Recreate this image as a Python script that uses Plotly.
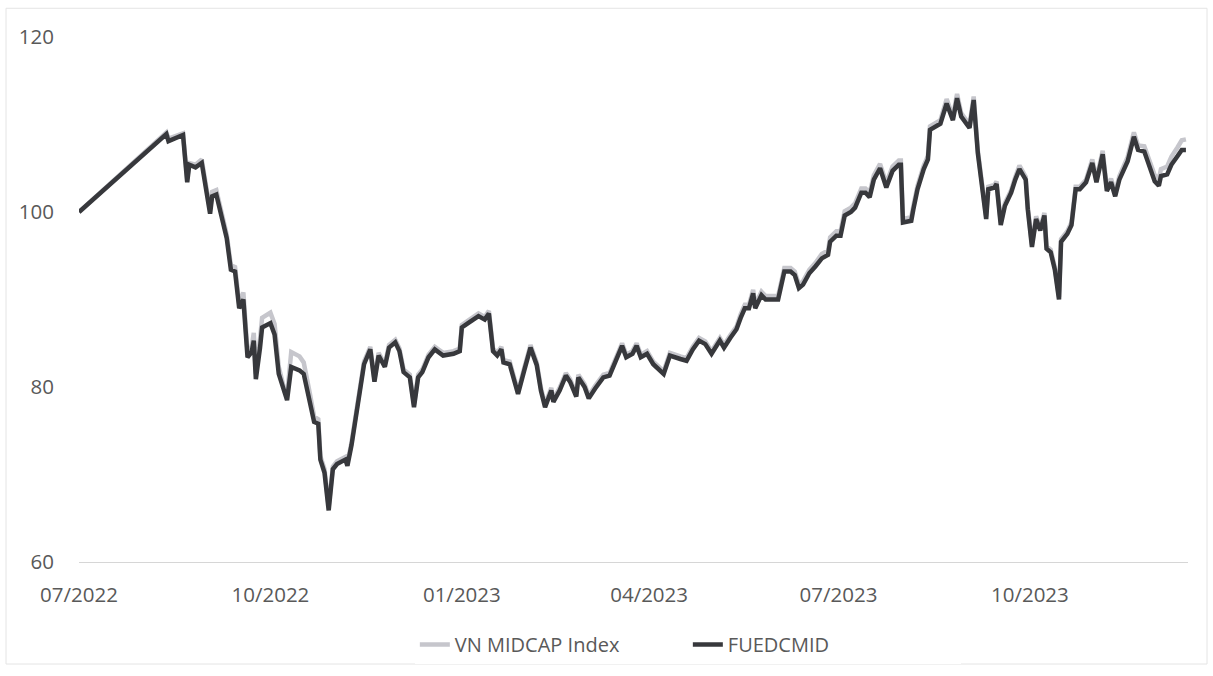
import plotly.graph_objects as go

dates = [
    "2022-07-01", "2022-08-12", "2022-08-13", "2022-08-20", "2022-08-22", "2022-08-23", "2022-08-26", "2022-08-29",
    "2022-09-02", "2022-09-03", "2022-09-05", "2022-09-08", "2022-09-10", "2022-09-12", "2022-09-14", "2022-09-16",
    "2022-09-18", "2022-09-20", "2022-09-22", "2022-09-23", "2022-09-24", "2022-09-26", "2022-09-27", "2022-10-01",
    "2022-10-03", "2022-10-05", "2022-10-08", "2022-10-09", "2022-10-11", "2022-10-15", "2022-10-17", "2022-10-20",
    "2022-10-22", "2022-10-24", "2022-10-25", "2022-10-27", "2022-10-29", "2022-10-31", "2022-11-02", "2022-11-06",
    "2022-11-07", "2022-11-09", "2022-11-12", "2022-11-13", "2022-11-15", "2022-11-18", "2022-11-19", "2022-11-20",
    "2022-11-22", "2022-11-25", "2022-11-27", "2022-11-30", "2022-12-02", "2022-12-04", "2022-12-07", "2022-12-09",
    "2022-12-11", "2022-12-13", "2022-12-16", "2022-12-19", "2022-12-23", "2022-12-28", "2022-12-31", "2023-01-01",
    "2023-01-04", "2023-01-09", "2023-01-12", "2023-01-14", "2023-01-16", "2023-01-18", "2023-01-20", "2023-01-21",
    "2023-01-24", "2023-01-28", "2023-01-31", "2023-02-03", "2023-02-06", "2023-02-08", "2023-02-10", "2023-02-13",
    "2023-02-14", "2023-02-17", "2023-02-20", "2023-02-22", "2023-02-25", "2023-02-26", "2023-03-01", "2023-03-03",
    "2023-03-06", "2023-03-10", "2023-03-13", "2023-03-16", "2023-03-19", "2023-03-21", "2023-03-24", "2023-03-26",
    "2023-03-28", "2023-03-31", "2023-04-03", "2023-04-08", "2023-04-11", "2023-04-16", "2023-04-19", "2023-04-22",
    "2023-04-25", "2023-04-28", "2023-05-01", "2023-05-05", "2023-05-07", "2023-05-10", "2023-05-13", "2023-05-15",
    "2023-05-17", "2023-05-19", "2023-05-21", "2023-05-22", "2023-05-25", "2023-05-27", "2023-05-30", "2023-06-02",
    "2023-06-05", "2023-06-08", "2023-06-10", "2023-06-12", "2023-06-14", "2023-06-17", "2023-06-20", "2023-06-23",
    "2023-06-26", "2023-06-27", "2023-06-30", "2023-07-02", "2023-07-04", "2023-07-07", "2023-07-09", "2023-07-12",
    "2023-07-14", "2023-07-16", "2023-07-18", "2023-07-21", "2023-07-24", "2023-07-27", "2023-07-30", "2023-07-31",
    "2023-08-01", "2023-08-05", "2023-08-06", "2023-08-08", "2023-08-11", "2023-08-13", "2023-08-14", "2023-08-17",
    "2023-08-19", "2023-08-22", "2023-08-25", "2023-08-27", "2023-08-29", "2023-09-02", "2023-09-04", "2023-09-06",
    "2023-09-08", "2023-09-10", "2023-09-11", "2023-09-14", "2023-09-15", "2023-09-17", "2023-09-19", "2023-09-22",
    "2023-09-24", "2023-09-26", "2023-09-29", "2023-09-30", "2023-10-02", "2023-10-04", "2023-10-06", "2023-10-08",
    "2023-10-09", "2023-10-11", "2023-10-13", "2023-10-15", "2023-10-16", "2023-10-19", "2023-10-21", "2023-10-23",
    "2023-10-25", "2023-10-28", "2023-10-31", "2023-11-02", "2023-11-05", "2023-11-07", "2023-11-09", "2023-11-11",
    "2023-11-13", "2023-11-17", "2023-11-20", "2023-11-22", "2023-11-25", "2023-11-28", "2023-11-30", "2023-12-02",
    "2023-12-03", "2023-12-06", "2023-12-08", "2023-12-11", "2023-12-13", "2023-12-15",
]

fuedcmid = [
    100.0, 108.9, 108.1, 108.8, 103.4, 105.4, 105.1, 105.6,
    99.8, 101.8, 102.0, 99.2, 97.0, 93.4, 93.2, 89.0,
    90.0, 83.4, 84.0, 85.3, 80.9, 84.5, 86.8, 87.3,
    86.0, 81.5, 78.9, 78.5, 82.3, 81.9, 81.5, 78.5,
    76.0, 75.8, 71.7, 70.2, 65.9, 70.6, 71.2, 71.7,
    71.0, 73.4, 77.7, 79.6, 82.6, 84.3, 82.6, 80.6,
    83.6, 82.3, 84.5, 85.1, 84.1, 81.7, 81.1, 77.7,
    81.1, 81.7, 83.4, 84.3, 83.6, 83.8, 84.1, 86.8,
    87.3, 88.1, 87.7, 88.4, 84.1, 83.6, 84.3, 82.8,
    82.6, 79.2, 81.9, 84.5, 82.5, 79.6, 77.7, 79.6,
    78.3, 79.6, 81.3, 80.6, 78.9, 81.1, 80.0, 78.7,
    79.8, 81.1, 81.3, 83.0, 84.7, 83.4, 83.8, 84.7,
    83.4, 83.8, 82.6, 81.5, 83.6, 83.2, 83.0, 84.3,
    85.3, 84.9, 83.8, 85.3, 84.5, 85.6, 86.6, 87.9,
    89.0, 89.0, 90.7, 89.0, 90.5, 90.0, 90.0, 90.0,
    93.2, 93.2, 92.8, 91.3, 91.7, 93.0, 93.8, 94.7,
    95.1, 96.6, 97.3, 97.3, 99.6, 100.0, 100.5, 102.2,
    102.2, 101.7, 103.7, 105.0, 102.8, 104.7, 105.4, 105.4,
    98.8, 99.0, 100.3, 102.6, 104.9, 106.0, 109.4, 109.8,
    110.1, 112.4, 110.5, 113.0, 110.9, 109.6, 112.8, 106.7,
    103.0, 99.2, 102.6, 102.8, 103.2, 98.5, 100.7, 102.2,
    103.7, 104.9, 103.7, 100.3, 96.0, 99.2, 97.9, 99.6,
    95.8, 95.4, 93.4, 90.0, 96.6, 97.5, 98.5, 102.6,
    102.6, 103.4, 105.6, 103.4, 106.6, 102.4, 103.4, 101.8,
    103.7, 105.8, 108.6, 107.1, 106.9, 105.0, 103.5, 103.0,
    104.1, 104.3, 105.4, 106.4, 107.1, 107.1,
]

vn_midcap = [
    100.0, 109.1, 108.4, 109.0, 103.8, 105.6, 105.4, 106.0,
    100.2, 102.3, 102.5, 99.6, 97.4, 93.9, 93.7, 89.5,
    90.8, 84.0, 84.6, 86.2, 81.5, 85.5, 87.9, 88.5,
    87.2, 82.3, 79.4, 79.0, 84.0, 83.5, 82.8, 79.2,
    76.6, 76.3, 72.1, 70.6, 66.3, 70.9, 71.5, 72.0,
    71.3, 73.7, 78.0, 79.9, 82.9, 84.6, 82.9, 80.9,
    83.9, 82.6, 84.8, 85.4, 84.4, 82.0, 81.4, 78.0,
    81.4, 82.0, 83.7, 84.6, 83.9, 84.1, 84.4, 87.1,
    87.6, 88.4, 88.0, 88.7, 84.4, 83.9, 84.6, 83.1,
    82.9, 79.5, 82.2, 84.8, 82.8, 79.9, 78.0, 79.9,
    78.6, 79.9, 81.6, 80.9, 79.2, 81.4, 80.3, 79.0,
    80.1, 81.4, 81.6, 83.3, 85.0, 83.7, 84.1, 85.0,
    83.7, 84.1, 82.9, 81.8, 83.9, 83.5, 83.3, 84.6,
    85.6, 85.2, 84.1, 85.6, 84.8, 85.9, 86.9, 88.3,
    89.4, 89.4, 91.1, 89.4, 90.9, 90.4, 90.4, 90.4,
    93.6, 93.6, 93.2, 91.7, 92.1, 93.4, 94.2, 95.2,
    95.6, 97.1, 97.8, 97.8, 100.1, 100.5, 101.0, 102.7,
    102.7, 102.2, 104.2, 105.5, 103.3, 105.2, 105.9, 105.9,
    99.2, 99.4, 100.7, 103.0, 105.3, 106.4, 109.8, 110.2,
    110.5, 112.9, 110.9, 113.5, 111.3, 110.0, 113.2, 107.0,
    103.3, 99.5, 102.9, 103.1, 103.5, 98.8, 101.0, 102.5,
    104.0, 105.3, 104.0, 100.6, 96.3, 99.5, 98.2, 99.9,
    96.1, 95.7, 93.7, 90.3, 96.9, 97.8, 98.8, 102.9,
    102.9, 103.7, 106.0, 103.8, 107.0, 102.8, 103.8, 102.2,
    104.1, 106.3, 109.1, 107.6, 107.5, 105.7, 104.2, 103.8,
    104.9, 105.2, 106.3, 107.4, 108.2, 108.3,
]

tick_dates = ["2022-07-01", "2022-10-01", "2023-01-01", "2023-04-01", "2023-07-01", "2023-10-01"]
tick_labels = ["07/2022", "10/2022", "01/2023", "04/2023", "07/2023", "10/2023"]
y_ticks = [60, 80, 100, 120]

FONT = "Open Sans"
TEXT = "#595959"

fig = go.Figure()
fig.add_trace(go.Scatter(
    x=dates, y=vn_midcap, mode="lines", name="VN MIDCAP Index",
    line=dict(color="#c6c6cc", width=4.5),
))
fig.add_trace(go.Scatter(
    x=dates, y=fuedcmid, mode="lines", name="FUEDCMID",
    line=dict(color="#37383c", width=4.5),
))

fig.update_layout(
    width=1213, height=676,
    margin=dict(l=79, r=25, t=37, b=109),
    paper_bgcolor="white", plot_bgcolor="white",
    font=dict(family=FONT, color=TEXT, size=20),
    showlegend=True,
    legend=dict(orientation="h", x=0.549, xanchor="center", y=-0.12, yanchor="top",
                font=dict(family=FONT, size=20, color=TEXT),
                entrywidth=228, entrywidthmode="pixels",
                traceorder="normal"),
    xaxis=dict(
        type="date", range=["2022-07-01", "2023-12-16"],
        tickvals=tick_dates, ticktext=tick_labels,
        showgrid=False, zeroline=False,
        showline=True, linecolor="#d6d6d6", linewidth=1,
        ticks="outside", ticklen=14, tickcolor="rgba(0,0,0,0)",
        tickfont=dict(family=FONT, size=20.5, color=TEXT),
    ),
    yaxis=dict(
        range=[60, 120], tickvals=y_ticks,
        showgrid=False, zeroline=False, showline=False,
        ticks="outside", ticklen=20, tickcolor="rgba(0,0,0,0)",
        tickfont=dict(family=FONT, size=20.5, color=TEXT),
    ),
    shapes=[dict(
        type="rect", xref="paper", yref="paper",
        x0=(6 - 79) / 1109, x1=(1207 - 79) / 1109,
        y0=(567 - 670) / 530, y1=(567 - 8) / 530,
        line=dict(color="#e4e4e4", width=1), layer="below",
    )],
)

fig.write_html("out.html", config={"displayModeBar": False},
               post_script="document.body.style.margin='0';")
